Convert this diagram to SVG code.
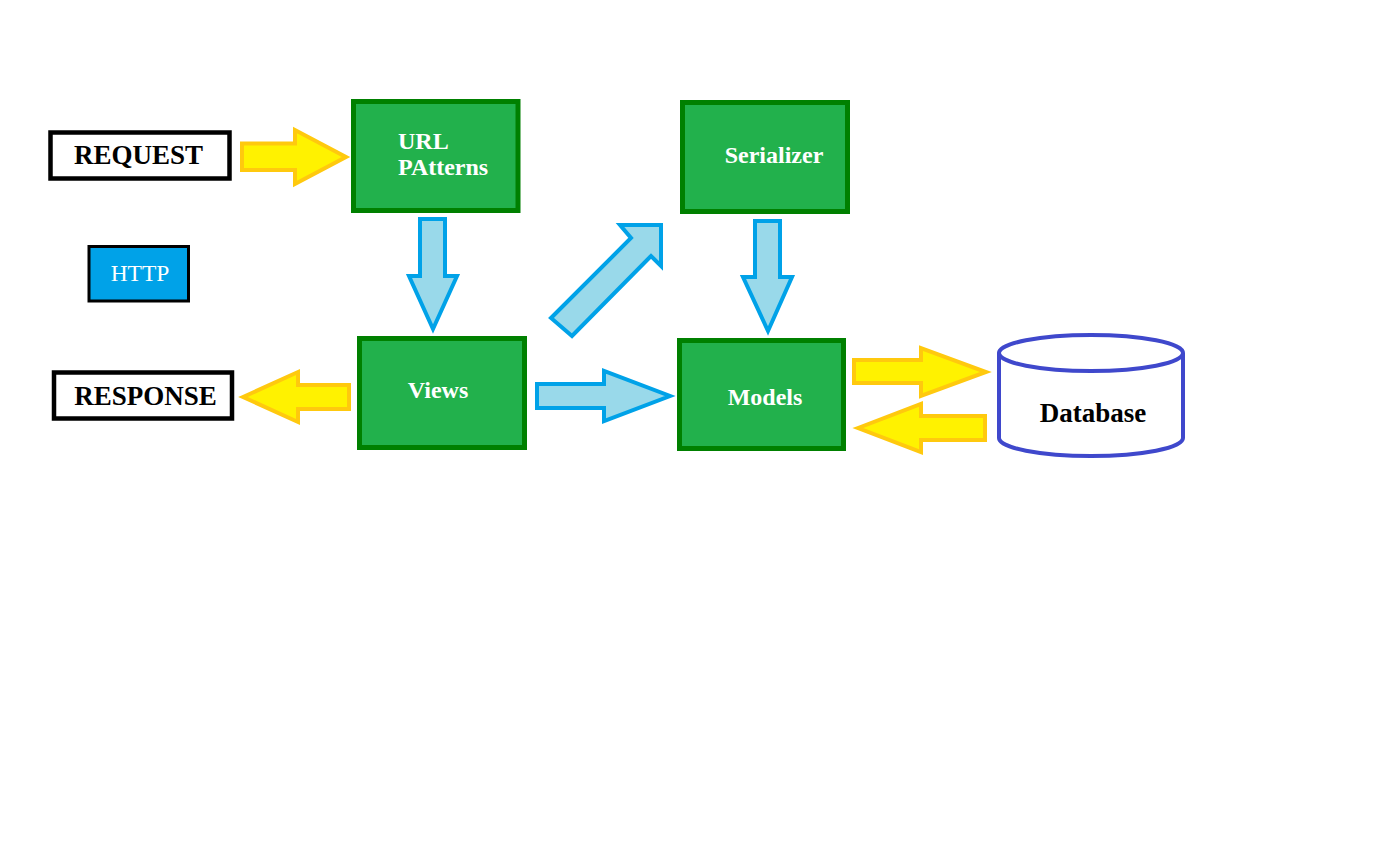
<svg xmlns="http://www.w3.org/2000/svg" width="1377" height="865" viewBox="0 0 1377 865">
<style>
.term{fill:#fff;stroke:#000;stroke-width:4.5}
.comp{fill:#22B14C;stroke:#008000;stroke-width:5}
.ylw{fill:#FFF200;stroke:#FFC90E;stroke-width:4;stroke-linejoin:miter}
.blu{fill:#99D9EA;stroke:#00A2E8;stroke-width:4;stroke-linejoin:miter}
.tb{font-family:"Liberation Serif","Times New Roman",serif;font-weight:bold;font-size:27px;fill:#000;text-anchor:middle}
.tw{font-family:"Liberation Serif","Times New Roman",serif;font-weight:bold;font-size:24px;fill:#fff}
</style>
<rect width="1377" height="865" fill="#fff"/>
<g id="connectors">
<polygon class="ylw" points="242,143.5 295,143.5 295,130 346,157 295,184 295,170 242,170"/>
<polygon class="ylw" points="243,397 298,372 298,385 349,385 349,409 298,409 298,422"/>
<polygon class="blu" points="420,219 445,219 445,276 457,276 433,329 409,276 420,276"/>
<polygon class="blu" points="755,221 780,221 780,277 792,277 768,331 743,277 755,277"/>
<polygon class="blu" points="537,384 604,384 604,371 670,396 604,421 604,408 537,408"/>
<polygon class="blu" points="551,318 631,238 620,225 661,225 661,266 651,256 572,336"/>
<polygon class="ylw" points="854,360 921,360 921,348 986,372 921,396 921,383 854,383"/>
<polygon class="ylw" points="858,428 921,404 921,416 985,416 985,440 921,440 921,452"/>
</g>
<g id="request">
<rect class="term" x="50.5" y="132.5" width="179" height="46"/>
<text class="tb" x="138.5" y="164">REQUEST</text>
</g>
<g id="http">
<rect x="89" y="246.5" width="99.5" height="54.5" fill="#00A2E8" stroke="#000" stroke-width="3"/>
<text x="140" y="281" font-family="Liberation Serif, Times New Roman, serif" font-size="23.5" fill="#fff" text-anchor="middle">HTTP</text>
</g>
<g id="response">
<rect class="term" x="54" y="372.5" width="178" height="46"/>
<text class="tb" x="145.5" y="405">RESPONSE</text>
</g>
<g id="url">
<rect class="comp" x="353.5" y="101.5" width="164.5" height="109"/>
<text class="tw" x="398" y="149">URL</text>
<text class="tw" x="398" y="175">PAtterns</text>
</g>
<g id="serializer">
<rect class="comp" x="682.5" y="102.5" width="165" height="109"/>
<text class="tw" x="774" y="163" text-anchor="middle">Serializer</text>
</g>
<g id="views">
<rect class="comp" x="359.5" y="338.5" width="165" height="109"/>
<text class="tw" x="438" y="398" text-anchor="middle">Views</text>
</g>
<g id="models">
<rect class="comp" x="679.5" y="340.5" width="164" height="108"/>
<text class="tw" x="765" y="405" text-anchor="middle">Models</text>
</g>
<g id="database">
<path d="M999,353 L999,438 A92,18 0 0 0 1183,438 L1183,353" fill="#fff" stroke="#3F48CC" stroke-width="4"/>
<ellipse cx="1091" cy="353" rx="92" ry="18" fill="#fff" stroke="#3F48CC" stroke-width="4"/>
<text class="tb" x="1093" y="422" font-size="26">Database</text>
</g>
</svg>
